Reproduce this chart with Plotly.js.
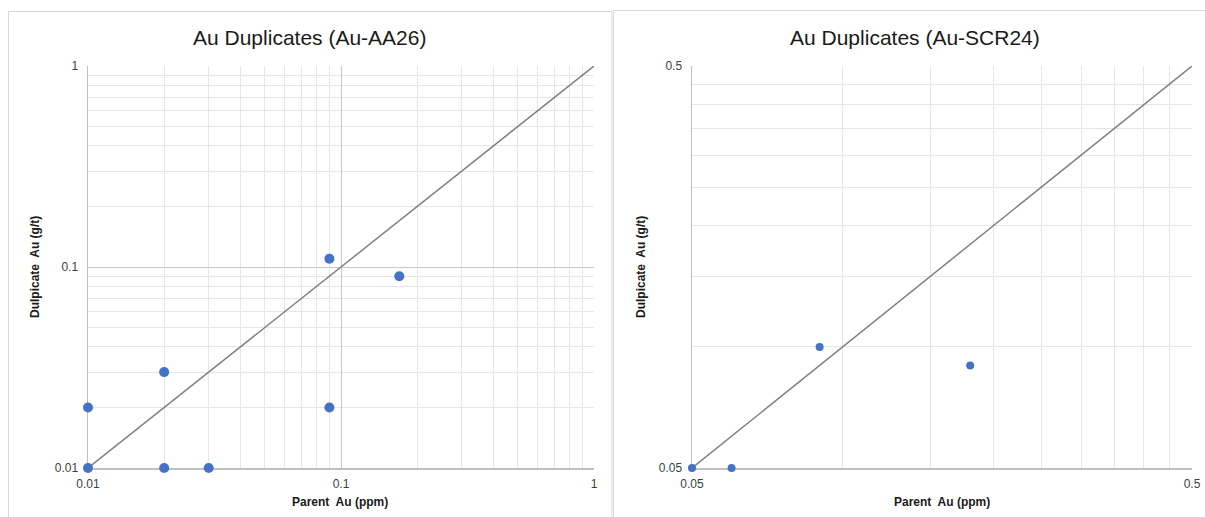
<!DOCTYPE html>
<html><head><meta charset="utf-8">
<script src="https://cdn.plot.ly/plotly-3.0.1.min.js"></script>
<style>html,body{margin:0;padding:0;background:#fff}#c{width:1205px;height:517px}</style>
</head><body><div id="c"></div>
<script>
// Left chart: Au-AA26
const aaParent = [0.01, 0.01, 0.02, 0.02, 0.03, 0.09, 0.09, 0.17];
const aaDup    = [0.01, 0.02, 0.03, 0.01, 0.01, 0.11, 0.02, 0.09];
const aaLine   = [0.01, 1];
const aaMajor  = [0.01, 0.1, 1];
const aaMajorLabels = ['0.01', '0.1', '1'];
const aaMinor  = [0.02,0.03,0.04,0.05,0.06,0.07,0.08,0.09,0.2,0.3,0.4,0.5,0.6,0.7,0.8,0.9];

// Right chart: Au-SCR24
const scrParent = [0.05, 0.06, 0.09, 0.18];
const scrDup    = [0.05, 0.05, 0.10, 0.09];
const scrLine   = [0.05, 0.5];
const scrMajor  = [0.05, 0.5];
const scrMajorLabels = ['0.05', '0.5'];
const scrMinor  = [0.1,0.15,0.2,0.25,0.3,0.35,0.4,0.45];

const W = 1205, H = 517;
const px = v => v / W, py = v => 1 - v / H;
const blue = '#4472C4';
const tickFont = {family: 'Liberation Sans, Arial, sans-serif', size: 12, color: '#404040'};

function axis(domain, range, major, labels, minor, majorGrid) {
  return {
    type: 'log', domain: domain, range: range, autorange: false,
    tickmode: 'array', tickvals: major, ticktext: labels,
    showgrid: true, gridcolor: majorGrid, gridwidth: 1,
    showline: true, linecolor: '#bfbfbf', linewidth: 1.5, layer: 'below traces',
    ticks: '', tickfont: tickFont, zeroline: false, fixedrange: true,
    minor: {tickmode: 'array', tickvals: minor, showgrid: true, gridcolor: '#e6e6e6', gridwidth: 1, ticks: ''}
  };
}

const traces = [
  {x: aaLine, y: aaLine, mode: 'lines', line: {color: '#808080', width: 1.5}, xaxis: 'x', yaxis: 'y', hoverinfo: 'skip'},
  {x: aaParent, y: aaDup, mode: 'markers', marker: {color: blue, size: 10}, xaxis: 'x', yaxis: 'y', cliponaxis: false},
  {x: scrLine, y: scrLine, mode: 'lines', line: {color: '#808080', width: 1.5}, xaxis: 'x2', yaxis: 'y2', hoverinfo: 'skip'},
  {x: scrParent, y: scrDup, mode: 'markers', marker: {color: blue, size: 8}, xaxis: 'x2', yaxis: 'y2', cliponaxis: false}
];

const titleFont = {family: 'Liberation Sans, Arial, sans-serif', size: 21, color: '#1a1a1a'};
const axTitleFont = {family: 'Liberation Sans, Arial, sans-serif', size: 12, color: '#1a1a1a'};

const layout = {
  width: W, height: H, margin: {l: 0, r: 0, t: 0, b: 0},
  paper_bgcolor: '#fff', plot_bgcolor: '#fff', showlegend: false,
  xaxis: Object.assign(axis([px(88), px(594)], [-2, 0], aaMajor, aaMajorLabels, aaMinor, '#c8c8c8'), {anchor: 'y', ticklabelstandoff: 4}),
  yaxis: Object.assign(axis([py(468), py(66)], [-2, 0], aaMajor, aaMajorLabels, aaMinor, '#c8c8c8'), {anchor: 'x', ticklabelstandoff: 6}),
  xaxis2: Object.assign(axis([px(692), px(1192)], [Math.log10(0.05), Math.log10(0.5)], scrMajor, scrMajorLabels, scrMinor, '#e0e0e0'), {anchor: 'y2', ticklabelstandoff: 4}),
  yaxis2: Object.assign(axis([py(468), py(66)], [Math.log10(0.05), Math.log10(0.5)], scrMajor, scrMajorLabels, scrMinor, '#e0e0e0'), {anchor: 'x2', ticklabelstandoff: 6}),
  shapes: [
    {type: 'rect', xref: 'paper', yref: 'paper', x0: px(8.5), x1: px(612), y0: py(520), y1: py(11.5), line: {color: '#d9d9d9', width: 1}, fillcolor: 'rgba(0,0,0,0)', layer: 'below'},
    {type: 'rect', xref: 'paper', yref: 'paper', x0: px(613.5), x1: px(1210), y0: py(520), y1: py(10.5), line: {color: '#d9d9d9', width: 1}, fillcolor: 'rgba(0,0,0,0)', layer: 'below'}
  ],
  annotations: [
    {text: 'Au Duplicates (Au-AA26)', xref: 'paper', yref: 'paper', x: px(310), y: py(37), showarrow: false, font: titleFont, xanchor: 'center', yanchor: 'middle'},
    {text: 'Au Duplicates (Au-SCR24)', xref: 'paper', yref: 'paper', x: px(915), y: py(37), showarrow: false, font: titleFont, xanchor: 'center', yanchor: 'middle'},
    {text: '<b>Parent\u00a0 Au (ppm)</b>', xref: 'paper', yref: 'paper', x: px(340), y: py(502), showarrow: false, font: axTitleFont, xanchor: 'center', yanchor: 'middle'},
    {text: '<b>Parent\u00a0 Au (ppm)</b>', xref: 'paper', yref: 'paper', x: px(942), y: py(502), showarrow: false, font: axTitleFont, xanchor: 'center', yanchor: 'middle'},
    {text: '<b>Dulpicate\u00a0 Au (g/t)</b>', xref: 'paper', yref: 'paper', x: px(35), y: py(267), textangle: -90, showarrow: false, font: axTitleFont, xanchor: 'center', yanchor: 'middle'},
    {text: '<b>Dulpicate\u00a0 Au (g/t)</b>', xref: 'paper', yref: 'paper', x: px(641), y: py(267), textangle: -90, showarrow: false, font: axTitleFont, xanchor: 'center', yanchor: 'middle'}
  ]
};

Plotly.newPlot('c', traces, layout, {displayModeBar: false, staticPlot: true});
</script></body></html>
